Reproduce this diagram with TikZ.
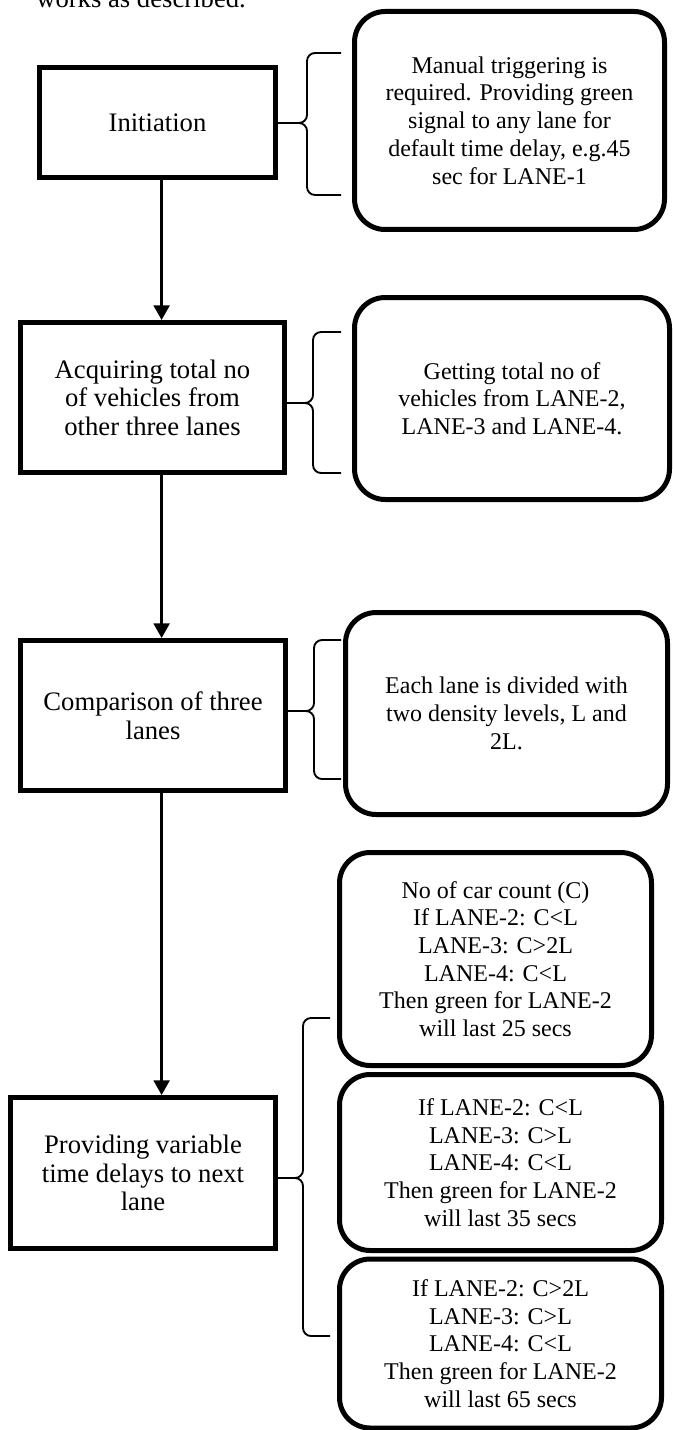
\documentclass[tikz,border=0pt]{standalone}
\usepackage{fontspec}
\setmainfont{Liberation Serif}
\usetikzlibrary{positioning, arrows.meta}

\tikzset{
  stage/.style={draw, line width=3.75pt, inner sep=0pt, align=center, font=\fontsize{20}{21.4}\selectfont},
  note/.style={draw, line width=3.75pt, rounded corners=23pt, inner sep=0pt, align=center},
  flow/.style={line width=1.7pt, -{Triangle[length=11pt, width=12pt]}},
  curly/.style={line width=1.4pt, rounded corners=6pt},
}

\begin{document}
\begin{tikzpicture}[x=0.75pt, y=-0.75pt, font=\fontsize{18}{20.8}\selectfont]
    \useasboundingbox (0,0) rectangle (672,1430);
    \node[anchor=base west, inner sep=0pt, font=\fontsize{20}{21.4}\selectfont] (intro) at (36,8) {works as described.};

    \node[stage, minimum width=177pt, minimum height=82.5pt] (init) at (157.5,122.5) {Initiation};
    \node[stage, minimum width=198pt, minimum height=112.5pt] (acq) at (152.5,397.5) {Acquiring total no\\of vehicles from\\other three lanes};
    \node[stage, minimum width=198.75pt, minimum height=112.5pt] (comp) at (153,715.5) {Comparison of three\\lanes};
    \node[stage, minimum width=198.75pt, minimum height=113.25pt] (prov) at (143,1173) {Providing variable\\time delays to next\\lane};

    \node[note, minimum width=232.5pt, minimum height=163.5pt] (trig) at (509.5,120.5) {Manual triggering is\\required. Providing green\\signal to any lane for\\default time delay, e.g.45\\sec for LANE-1};
    \node[note, minimum width=236.25pt, minimum height=151.5pt] (count) at (512,398.5) {Getting total no of\\vehicles from LANE-2,\\LANE-3 and LANE-4.};
    \node[note, minimum width=241.5pt, minimum height=151.5pt] (level) at (506.5,713.5) {Each lane is divided with\\two density levels, L and\\2L.};
    \node[note, minimum width=234pt, minimum height=159.75pt] (case1) at (495.5,959) {No of car count (C)\\If LANE-2: C<L\\LANE-3: C>2L\\LANE-4: C<L\\Then green for LANE-2\\will last 25 secs};
    \node[note, minimum width=241.5pt, minimum height=132pt] (case2) at (500.5,1162.5) {If LANE-2: C<L\\LANE-3: C>L\\LANE-4: C<L\\Then green for LANE-2\\will last 35 secs};
    \node[note, minimum width=241.5pt, minimum height=126.75pt] (case3) at (500.5,1343.5) {If LANE-2: C>2L\\LANE-3: C>L\\LANE-4: C<L\\Then green for LANE-2\\will last 65 secs};

    \coordinate (ax) at (161.6,0);
    \draw[flow] (init.south -| ax) -- (acq.north -| ax);
    \draw[flow] (acq.south -| ax) -- (comp.north -| ax);
    \draw[flow] (comp.south -| ax) -- (prov.north -| ax);

    \coordinate (b1t) at (341,53);
    \coordinate (b1b) at (341,195);
    \coordinate (b1m) at (307,123);
    \draw[curly] (b1t) -| (b1m) -- (init.east |- b1m);
    \draw[curly] (b1b) -| (b1m) -- (init.east |- b1m);

    \coordinate (b2t) at (341,332);
    \coordinate (b2b) at (341,473);
    \coordinate (b2m) at (313,403);
    \draw[curly] (b2t) -| (b2m) -- (acq.east |- b2m);
    \draw[curly] (b2b) -| (b2m) -- (acq.east |- b2m);

    \coordinate (b3t) at (341,640);
    \coordinate (b3b) at (341,779);
    \coordinate (b3m) at (314,711);
    \draw[curly] (b3t) -| (b3m) -- (comp.east |- b3m);
    \draw[curly] (b3b) -| (b3m) -- (comp.east |- b3m);

    \coordinate (b4t) at (330,1018);
    \coordinate (b4b) at (330,1336);
    \coordinate (b4m) at (303,1178);
    \draw[curly] (b4t) -| (b4m) -- (prov.east |- b4m);
    \draw[curly] (b4b) -| (b4m) -- (prov.east |- b4m);
\end{tikzpicture}
\end{document}
